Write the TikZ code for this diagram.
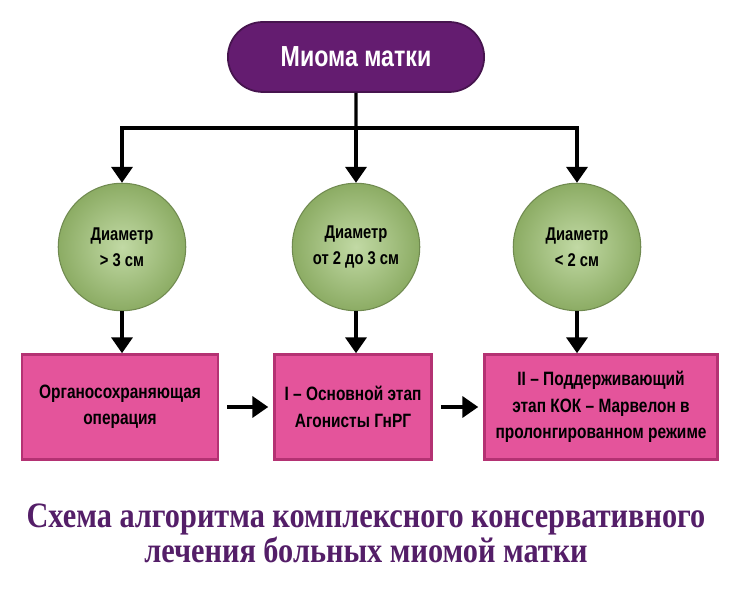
\documentclass[tikz,border=0pt]{standalone}
\usepackage{fontspec}
\setmainfont{Liberation Serif}
\newfontfamily\condsans[FakeStretch=0.8]{Liberation Sans}
\newfontfamily\condserif[FakeStretch=0.85]{Liberation Serif}
\usetikzlibrary{positioning}
\usetikzlibrary{shapes.misc}
\usetikzlibrary{arrows.meta}
\usepackage{xcolor}
\definecolor{pillpurple}{RGB}{100,28,112}
\definecolor{circgreen}{RGB}{178,208,142}
\definecolor{circedge}{RGB}{140,172,100}
\definecolor{boxpink}{RGB}{228,84,155}
\definecolor{boxedge}{RGB}{180,50,115}
\definecolor{captpurple}{RGB}{84,30,104}

\begin{document}
\begin{tikzpicture}[x=0.02cm, y=-0.02cm,
        pill/.style={rounded rectangle, fill=pillpurple, draw=pillpurple!70!black, line width=1pt,
            minimum width=5.36cm, minimum height=1.4cm, text=white, font=\condsans\bfseries\fontsize{16.5}{18}\selectfont},
        d/.style={circle, inner color=circgreen!80!white, outer color=circedge, draw=circedge!80!black, line width=0.6pt,
            minimum size=2.55cm, align=center, font=\condsans\bfseries\fontsize{10.5}{15}\selectfont},
        stage/.style={rectangle, fill=boxpink, draw=boxedge, line width=1.5pt, minimum height=2.1cm,
            align=center, font=\condsans\bfseries\fontsize{11}{15}\selectfont},
        arr/.style={line width=1.8pt, -{Triangle[width=12pt, length=9pt]}}]
        \useasboundingbox (0, 0) rectangle (750, 604);

        \node[pill] (top) at (356, 57) {Миома матки};
        \coordinate (split) at (356, 128);

        \node[d] (c1) at (122, 247) {Диаметр\\> 3 см};
        \node[d] (c2) at (356, 247) {Диаметр\\от 2 до 3 см};
        \node[d] (c3) at (577, 247) {Диаметр\\< 2 см};

        \node[stage, minimum width=3.92cm] (b1) at (120, 407) {Органосохраняющая\\операция};
        \node[stage, minimum width=3.14cm] (b2) at (353, 407) {I – Основной этап\\Агонисты ГнРГ};
        \node[stage, minimum width=4.66cm] (b3) at (601, 407) {II – Поддерживающий\\этап КОК – Марвелон в\\пролонгированном режиме};

        \draw[line width=1.8pt] (top) -- (split);
        \draw[arr] (split) -| (c1);
        \draw[arr] (split) -- (c2);
        \draw[arr] (split) -| (c3);

        \draw[arr] (c1) -- (c1 |- b1.north);
        \draw[arr] (c2) -- (c2 |- b2.north);
        \draw[arr] (c3) -- (c3 |- b3.north);

        \draw[arr, shorten <=0.16cm, shorten >=0.1cm] (b1) -- (b2);
        \draw[arr, shorten <=0.16cm, shorten >=0.1cm] (b2) -- (b3);

        \node[align=center, text=captpurple, font=\condserif\bfseries\fontsize{20.3}{18.5}\selectfont] (cap) at (366, 533)
            {Схема алгоритма комплексного консервативного\\лечения больных миомой матки};
    \end{tikzpicture}
\end{document}
